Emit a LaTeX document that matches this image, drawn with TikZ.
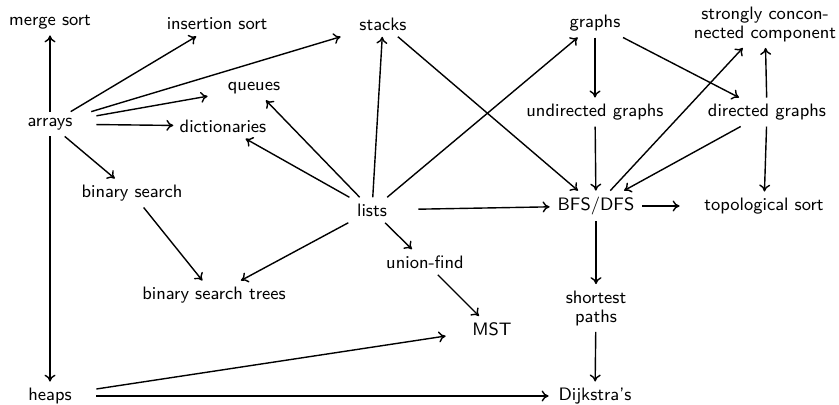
\documentclass[tikz,border=0pt]{standalone}
\usetikzlibrary{arrows.meta}
\begin{document}
\begin{tikzpicture}[x=0.5pt,y=-0.5pt,
  every node/.style={font=\sffamily\fontsize{9}{9.5}\selectfont, inner sep=3pt, minimum width=46pt, align=center},
  wide/.style={minimum width=84pt},
  arr/.style={-{To[length=3.5pt,width=5.5pt]}, line width=0.7pt}]
\useasboundingbox (0,0) rectangle (839,404);
\node (merge) at (50,22) {merge sort};
\node (ins) at (217,24) {insertion sort};
\node (stacks) at (383,24) {stacks};
\node (graphs) at (595,23) {graphs};
\node[wide] (scc) at (765,24) {strongly concon-\\nected component};
\node (queues) at (254,88) {queues};
\node (arrays) at (50,124) {arrays};
\node (dict) at (223,126) {dictionaries};
\node (undir) at (595,112) {undirected graphs};
\node[wide] (dir) at (767,112) {directed graphs};
\node (bins) at (132,193) {binary search};
\node (lists) at (372,210) {lists};
\node (bfs) at (596,206) {BFS/DFS};
\node[wide] (topo) at (764,206) {topological sort};
\node (uf) at (425,262) {union-find};
\node (bst) at (214,295) {binary search trees};
\node (sp) at (596,308) {shortest\\paths};
\node (mst) at (492,329) {MST};
\node (heaps) at (50,396) {heaps};
\node (dij) at (595,396) {Dijkstra's};

\draw[arr] (arrays) -- (merge);
\draw[arr] (arrays) -- (ins);
\draw[arr] (arrays) -- (stacks);
\draw[arr] (arrays) -- (queues);
\draw[arr] (arrays) -- (dict);
\draw[arr] (arrays) -- (bins);
\draw[arr] (arrays) -- (heaps);
\draw[arr] (bins) -- (bst);
\draw[arr] (lists) -- (queues);
\draw[arr] (lists) -- (dict);
\draw[arr] (lists) -- (stacks);
\draw[arr] (lists) -- (graphs);
\draw[arr] (lists) -- (bfs);
\draw[arr] (lists) -- (bst);
\draw[arr] (lists) -- (uf);
\draw[arr] (uf) -- (mst);
\draw[arr] (heaps) -- (mst);
\draw[arr] (heaps) -- (dij);
\draw[arr] (stacks) -- (bfs);
\draw[arr] (graphs) -- (undir);
\draw[arr] (graphs) -- (dir);
\draw[arr] (undir) -- (bfs);
\draw[arr] (dir) -- (bfs);
\draw[arr] (bfs) -- (scc);
\draw[arr] (dir) -- (scc);
\draw[arr] (dir) -- (topo);
\draw[arr] (bfs) -- (topo);
\draw[arr] (bfs) -- (sp);
\draw[arr] (sp) -- (dij);
\end{tikzpicture}
\end{document}
